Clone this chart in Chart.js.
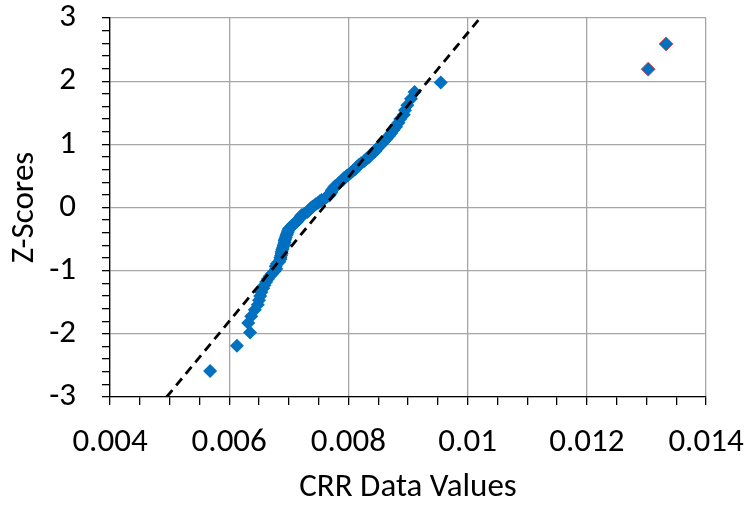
<!DOCTYPE html>
<html lang="en">
<head>
<meta charset="UTF-8">
<title>CRR normal probability plot</title>
<style>
  html, body { margin: 0; padding: 0; background: #fff; }
  canvas { display: block; }
</style>
</head>
<body>
<canvas id="qqChart" width="746" height="508"></canvas>
<script src="https://cdn.jsdelivr.net/npm/chart.js@4.4.0/dist/chart.umd.min.js"></script>
<script>
// CRR sample values and their z-scores
const crrValues = [
  0.00568, 0.00613, 0.00635, 0.00632, 0.00637, 0.00643, 0.00648, 0.00650, 0.00652, 0.00654,
  0.00657, 0.00659, 0.00662, 0.00665, 0.00668, 0.00672, 0.00676, 0.00679, 0.00678, 0.00680,
  0.00684, 0.00686, 0.00686, 0.00687, 0.00688, 0.00688, 0.00689, 0.00690, 0.00691, 0.00692,
  0.00693, 0.00693, 0.00694, 0.00695, 0.00696, 0.00697, 0.00698, 0.00699, 0.00700, 0.00702,
  0.00705, 0.00708, 0.00711, 0.00714, 0.00716, 0.00718, 0.00720, 0.00722, 0.00726, 0.00731,
  0.00733, 0.00736, 0.00738, 0.00741, 0.00745, 0.00749, 0.00752, 0.00755, 0.00760, 0.00764,
  0.00768, 0.00770, 0.00771, 0.00772, 0.00774, 0.00776, 0.00778, 0.00782, 0.00785, 0.00788,
  0.00791, 0.00793, 0.00797, 0.00800, 0.00804, 0.00808, 0.00812, 0.00814, 0.00817, 0.00821,
  0.00826, 0.00829, 0.00834, 0.00836, 0.00840, 0.00845, 0.00848, 0.00852, 0.00856, 0.00860,
  0.00864, 0.00868, 0.00872, 0.00876, 0.00880, 0.00884, 0.00887, 0.00893, 0.00895, 0.00899,
  0.00905, 0.00911, 0.00955
];
const zScores = [
  -2.59, -2.19, -1.98, -1.83, -1.72, -1.62, -1.54, -1.47, -1.40, -1.34,
  -1.28, -1.23, -1.18, -1.13, -1.09, -1.05, -1.01, -0.97, -0.93, -0.89,
  -0.86, -0.82, -0.79, -0.76, -0.73, -0.70, -0.67, -0.64, -0.61, -0.58,
  -0.55, -0.52, -0.50, -0.47, -0.44, -0.42, -0.39, -0.37, -0.34, -0.32,
  -0.29, -0.27, -0.24, -0.22, -0.19, -0.17, -0.14, -0.12, -0.10, -0.07,
  -0.05, -0.02, 0.00, 0.02, 0.05, 0.07, 0.10, 0.12, 0.14, 0.17,
  0.19, 0.22, 0.24, 0.27, 0.29, 0.32, 0.34, 0.37, 0.39, 0.42,
  0.44, 0.47, 0.50, 0.52, 0.55, 0.58, 0.61, 0.64, 0.67, 0.70,
  0.73, 0.76, 0.79, 0.82, 0.86, 0.89, 0.93, 0.97, 1.01, 1.05,
  1.09, 1.13, 1.18, 1.23, 1.28, 1.34, 1.40, 1.47, 1.54, 1.62,
  1.72, 1.83, 1.98
];

// the two high values, marked with a red outline
const outlierValues = [0.01303, 0.01333];
const outlierZ = [2.19, 2.59];

// normal reference line
const fitValues = [0.00495, 0.01021];
const fitZ = [-3, 3];

// axis labels
const xTickValues = [0.004, 0.006, 0.008, 0.01, 0.012, 0.014];
const xTickLabels = ['0.004', '0.006', '0.008', '0.01', '0.012', '0.014'];
const yTickValues = [-3, -2, -1, 0, 1, 2, 3];
const yTickLabels = ['-3', '-2', '-1', '0', '1', '2', '3'];

const toPoints = (xs, ys) => xs.map((x, i) => ({ x: x, y: ys[i] }));

const BLUE = '#0070C0';
const GRID = '#a6a6a6';
const FONT = "Carlito, Lato, sans-serif";
const FONT_SIZE = 33;

// ticks every minor step, labels only on the major ones
function majorIndex(values, v) {
  return values.findIndex(m => Math.abs(m - v) < 1e-9);
}
function buildTicks(values, step) {
  const out = [];
  const lo = values[0], hi = values[values.length - 1];
  const n = Math.round((hi - lo) / step);
  for (let i = 0; i <= n; i++) out.push({ value: +(lo + i * step).toFixed(6) });
  return out;
}

const ctx = document.getElementById('qqChart').getContext('2d');
new Chart(ctx, {
  type: 'scatter',
  data: {
    datasets: [
      {
        type: 'line',
        data: toPoints(fitValues, fitZ),
        borderColor: '#000',
        borderWidth: 2.8,
        borderDash: [9, 6],
        pointRadius: 0,
        fill: false,
        order: 0
      },
      {
        data: toPoints(outlierValues, outlierZ),
        pointStyle: 'rectRot',
        pointRadius: 7,
        backgroundColor: BLUE,
        borderColor: '#e0504a',
        borderWidth: 1,
        order: 1
      },
      {
        data: toPoints(crrValues, zScores),
        pointStyle: 'rectRot',
        pointRadius: 7,
        backgroundColor: BLUE,
        borderColor: BLUE,
        borderWidth: 0,
        order: 2
      }
    ]
  },
  options: {
    responsive: false,
    animation: false,
    layout: { padding: { top: 18, right: 40, left: 0, bottom: 0 } },
    plugins: { legend: { display: false }, tooltip: { enabled: false } },
    scales: {
      x: {
        type: 'linear',
        min: 0.004,
        max: 0.014,
        afterBuildTicks: s => { s.ticks = buildTicks(xTickValues, 0.0005); },
        // let the edge labels hang over the layout padding
        afterFit: s => { s.height = 111; s.paddingLeft = 0; s.paddingRight = 0; },
        grid: {
          color: c => majorIndex(xTickValues, c.tick.value) >= 0 ? GRID : 'rgba(0,0,0,0)',
          tickColor: '#000',
          tickLength: 8,
          lineWidth: 1.3
        },
        border: { color: '#000', width: 1.3 },
        ticks: {
          autoSkip: false,
          maxRotation: 0,
          padding: 18,
          color: '#000',
          font: { family: FONT, size: FONT_SIZE },
          callback: v => {
            const i = majorIndex(xTickValues, v);
            return i >= 0 ? xTickLabels[i] : '';
          }
        },
        title: {
          display: true,
          text: 'CRR Data Values',
          color: '#000',
          font: { family: FONT, size: FONT_SIZE },
          padding: { top: 0, bottom: 0 }
        }
      },
      y: {
        type: 'linear',
        min: -3,
        max: 3,
        afterBuildTicks: s => { s.ticks = buildTicks(yTickValues, 0.2); },
        afterFit: s => { s.width = 110; s.paddingTop = 0; s.paddingBottom = 0; },
        grid: {
          color: c => majorIndex(yTickValues, c.tick.value) >= 0 ? GRID : 'rgba(0,0,0,0)',
          tickColor: '#000',
          tickLength: 8,
          lineWidth: 1.3
        },
        border: { color: '#000', width: 1.3 },
        ticks: {
          autoSkip: false,
          padding: 26,
          color: '#000',
          font: { family: FONT, size: FONT_SIZE },
          callback: v => {
            const i = majorIndex(yTickValues, v);
            return i >= 0 ? yTickLabels[i] : '';
          }
        },
        title: {
          display: true,
          text: 'Z-Scores',
          color: '#000',
          font: { family: FONT, size: FONT_SIZE },
          padding: { top: 5, bottom: 0 }
        }
      }
    }
  }
});
</script>
</body>
</html>
